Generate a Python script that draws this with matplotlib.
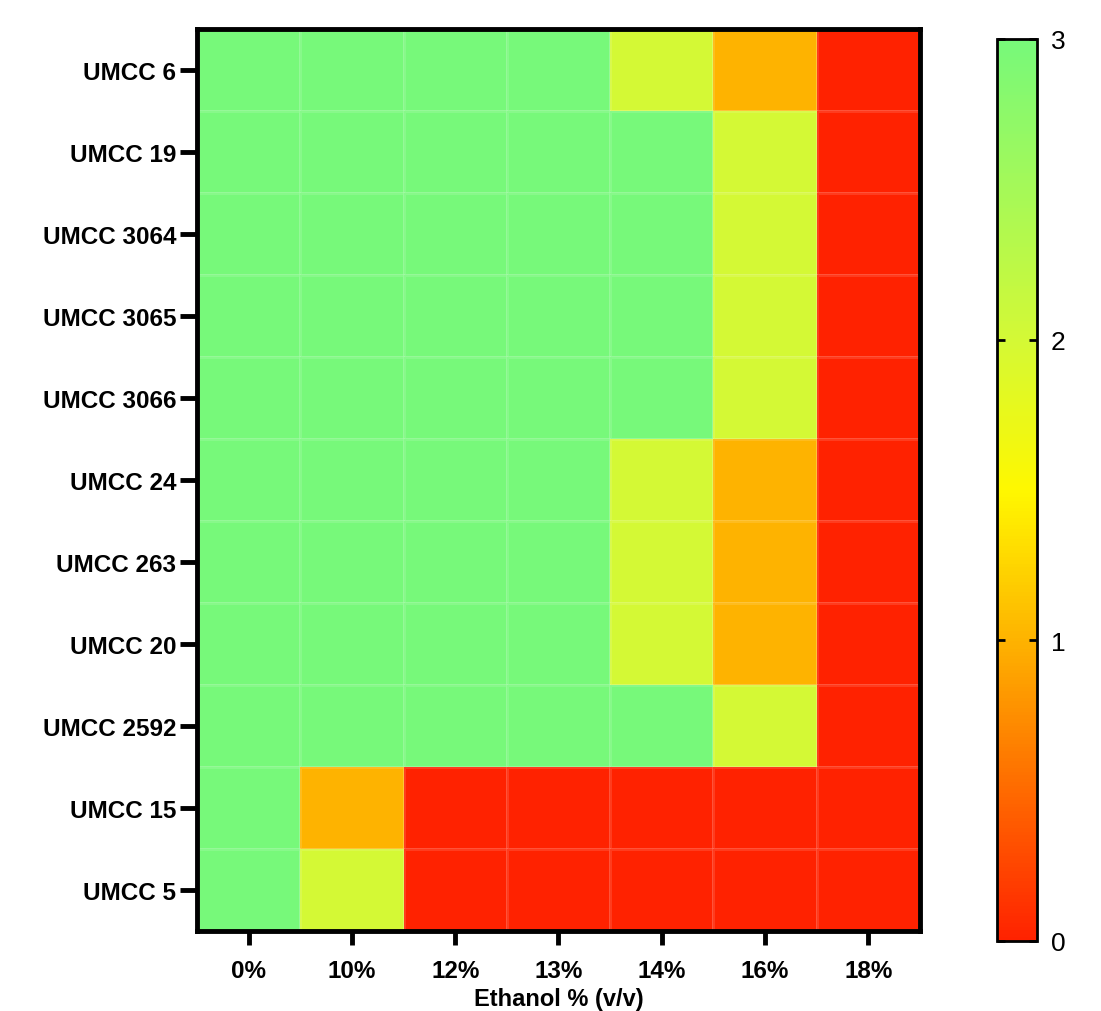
import numpy as np
import matplotlib
matplotlib.use("Agg")
import matplotlib.pyplot as plt
from matplotlib.colors import LinearSegmentedColormap

strains = ["UMCC 6", "UMCC 19", "UMCC 3064", "UMCC 3065", "UMCC 3066",
           "UMCC 24", "UMCC 263", "UMCC 20", "UMCC 2592", "UMCC 15", "UMCC 5"]
ethanol = ["0%", "10%", "12%", "13%", "14%", "16%", "18%"]
scores = [
    [3, 3, 3, 3, 2, 1, 0],
    [3, 3, 3, 3, 3, 2, 0],
    [3, 3, 3, 3, 3, 2, 0],
    [3, 3, 3, 3, 3, 2, 0],
    [3, 3, 3, 3, 3, 2, 0],
    [3, 3, 3, 3, 2, 1, 0],
    [3, 3, 3, 3, 2, 1, 0],
    [3, 3, 3, 3, 2, 1, 0],
    [3, 3, 3, 3, 3, 2, 0],
    [3, 1, 0, 0, 0, 0, 0],
    [3, 2, 0, 0, 0, 0, 0],
]

plt.rcParams['font.family'] = ['Liberation Sans', 'DejaVu Sans']

cmap = LinearSegmentedColormap.from_list(
    "rg", [(0.0, "#FF2200"), (1/3, "#FEB300"), (0.5, "#FFF800"),
           (2/3, "#D4F935"), (1.0, "#77F97A")])

fig = plt.figure(figsize=(11.01, 10.12), dpi=100)
ax = fig.add_axes([0.1789, 0.0791, 0.6567, 0.8913])
data = np.array(scores)
mesh = ax.pcolormesh(np.arange(len(ethanol) + 1) - 0.5,
                     np.arange(len(strains) + 1) - 0.5,
                     data, cmap=cmap, vmin=0, vmax=3,
                     edgecolors=(1, 1, 1, 0.12), linewidth=0.8)
ax.set_xlim(-0.5, len(ethanol) - 0.5)
ax.set_ylim(len(strains) - 0.5, -0.5)
ax.set_xticks(range(len(ethanol)))
ax.set_xticklabels(ethanol, fontsize=17.5, fontweight='bold')
ax.set_yticks(range(len(strains)))
ax.set_yticklabels(strains, fontsize=17.5, fontweight='bold')
ax.tick_params(axis='y', length=12, width=3.5, direction='out', pad=3)
ax.tick_params(axis='x', length=10, width=3.5, direction='out', pad=10)
for s in ax.spines.values():
    s.set_linewidth(3.5)
ax.set_xlabel("Ethanol % (v/v)", fontsize=17, fontweight='bold', labelpad=4)

cax = fig.add_axes([0.9055, 0.0692, 0.0363, 0.8913])
cb = fig.colorbar(mesh, cax=cax, ticks=[0, 1, 2, 3])
cb.outline.set_linewidth(2)
cax.tick_params(axis='y', which='both', direction='in', length=6, width=2,
                left=True, right=True, labelsize=19, pad=10)

fig.savefig("out.png", dpi=100, facecolor="white")
